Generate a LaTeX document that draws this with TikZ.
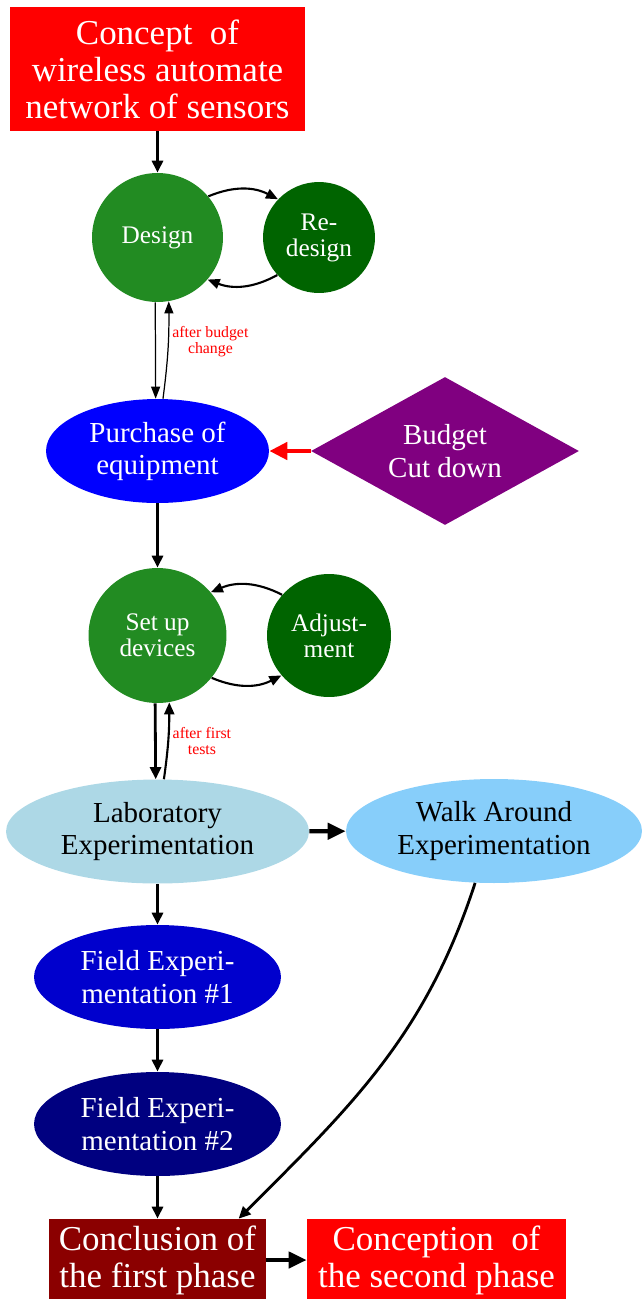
\documentclass[tikz,border=0pt]{standalone}
\usepackage{fontspec}
\setmainfont{Liberation Serif}
\usepackage{tikz}
\usetikzlibrary{shapes.geometric,arrows.meta}
\definecolor{myred}{HTML}{FF0000}
\definecolor{mygreen}{HTML}{228B22}
\definecolor{mydarkgreen}{HTML}{006400}
\definecolor{mypurple}{HTML}{800080}
\definecolor{mylightblue}{HTML}{ADD8E6}
\definecolor{myskyblue}{HTML}{87CEFA}
\definecolor{mymediumblue}{HTML}{0000CD}
\definecolor{mynavy}{HTML}{000080}
\definecolor{mydarkred}{HTML}{8B0000}
\newcommand{\boxfont}{\fontsize{19.9}{21}\selectfont}
\newcommand{\ovalfont}{\fontsize{16.5}{18.3}\selectfont}
\newcommand{\circfont}{\fontsize{14.4}{14.8}\selectfont}
\newcommand{\notefont}{\fontsize{9}{9.2}\selectfont}

\begin{document}
\begin{tikzpicture}[x=0.02cm,y=0.02cm,
    box/.style={rectangle,inner sep=0pt,text=white,align=center,font=\boxfont},
    oval/.style={ellipse,inner sep=0pt,text=white,align=center,font=\ovalfont},
    bubble/.style={ellipse,inner sep=0pt,text=white,align=center,font=\circfont},
    flow/.style={-{Triangle[length=0.24cm,width=0.22cm]},line width=1.6pt},
    thinflow/.style={-{Triangle[length=0.24cm,width=0.18cm]},line width=0.7pt},
    loopflow/.style={-{Triangle[length=0.24cm,width=0.2cm]},line width=1.2pt},
    boldflow/.style={-{Triangle[length=0.36cm,width=0.32cm]},line width=2.4pt},
    cutflow/.style={-{Triangle[length=0.36cm,width=0.34cm]},line width=2.8pt,myred},
    remark/.style={text=myred,align=center,font=\notefont,inner sep=0pt}]

    \useasboundingbox (0,0) rectangle (642,-1299); % keeps the page size

    % first phase, top part
    \node[box,fill=myred,minimum width=5.9cm,minimum height=2.48cm] (concept) at (157.5,-69)
        {Concept\ \ of\\wireless automate\\network of sensors};
    \node[bubble,fill=mygreen,minimum width=2.62cm,minimum height=2.58cm] (design) at (157.5,-237.5) {Design};
    \node[bubble,fill=mydarkgreen,minimum width=2.24cm,minimum height=2.22cm] (redesign) at (319,-237.5) {Re-\\design};
    \node[oval,fill=blue,minimum width=4.46cm,minimum height=2.08cm] (purchase) at (157.5,-451) {Purchase of\\equipment};
    \node[diamond,aspect=1.8,inner sep=0pt,fill=mypurple,text=white,align=center,font=\ovalfont,
          minimum width=5.36cm,minimum height=2.96cm] (budget) at (445,-451) {Budget\\Cut down};
    \node[bubble,fill=mygreen,minimum width=2.76cm,minimum height=2.7cm] (setup) at (157.5,-635.5) {Set up\\devices};
    \node[bubble,fill=mydarkgreen,minimum width=2.48cm,minimum height=2.46cm] (adjust) at (329,-635.5) {Adjust-\\ment};

    % experiments
    \node[oval,fill=mylightblue,text=black,minimum width=6.06cm,minimum height=2.08cm] (lab) at (157.5,-831.5)
        {Laboratory\\Experimentation};
    \node[oval,fill=myskyblue,text=black,minimum width=5.92cm,minimum height=2.08cm] (walk) at (494,-831)
        {Walk Around\\Experimentation};
    \node[oval,fill=mymediumblue,minimum width=4.94cm,minimum height=2.08cm] (field1) at (157.5,-977)
        {Field Experi-\\mentation \#1};
    \node[oval,fill=mynavy,minimum width=4.94cm,minimum height=2.08cm] (field2) at (157.5,-1124)
        {Field Experi-\\mentation \#2};

    % end of the phase
    \node[box,fill=mydarkred,minimum width=4.34cm,minimum height=1.64cm] (concl) at (157.5,-1260)
        {Conclusion of\\the first phase};
    \node[box,fill=myred,minimum width=5.18cm,minimum height=1.64cm] (conception) at (436.5,-1260)
        {Conception\ \ of\\the second phase};

    % connectors
    \draw[flow] (concept) -- (design);
    \draw[loopflow] (design.39) to[bend left=25] (redesign.137);
    \draw[loopflow] (redesign.222) to[bend left=25] (design.-40);
    \draw[thinflow] (design.-92) -- (purchase.92);
    \draw[thinflow] (purchase.84) to[bend right=4]
        node[remark,pos=0.6,anchor=west,xshift=2pt] {after budget\\change} (design.-80);
    \draw[cutflow] (budget) -- (purchase);
    \draw[flow] (purchase) -- (setup);
    \draw[loopflow] (adjust.139) to[bend right=25] (setup.39);
    \draw[loopflow] (setup.-38) to[bend right=25] (adjust.220);
    \draw[flow] (setup.-92) -- (lab.92);
    \draw[loopflow] (lab.83) to[bend right=4]
        node[remark,pos=0.5,anchor=west,xshift=2pt] {after first\\tests} (setup.-80);
    \draw[boldflow] (lab) -- (walk);
    \draw[flow] (lab) -- (field1);
    \draw[flow] (field1) -- (field2);
    \draw[flow] (field2) -- (concl);
    \draw[flow] (walk.-110) to[out=-108,in=45] (concl.27);
    \draw[boldflow] (concl) -- (conception);
\end{tikzpicture}
\end{document}
